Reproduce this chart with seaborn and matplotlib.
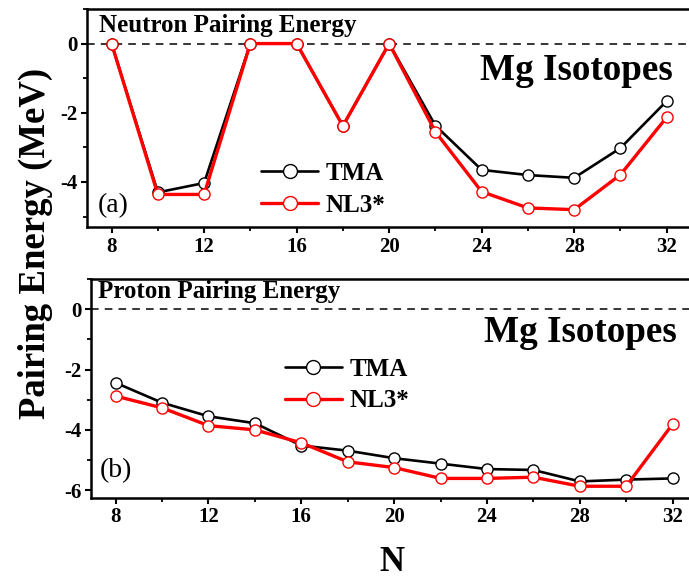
import numpy as np
import pandas as pd
import seaborn as sns
import matplotlib
matplotlib.use("Agg")
import matplotlib.pyplot as plt
from matplotlib.ticker import MultipleLocator
from matplotlib.lines import Line2D

# Neutron number N for the Mg isotope chain
neutron_number = [8, 10, 12, 14, 16, 18, 20, 22, 24, 26, 28, 30, 32]

# Neutron pairing energy (MeV)
neutron_tma = [0.0, -4.30, -4.03, 0.0, 0.0, -2.38, 0.0, -2.37, -3.65, -3.80, -3.88, -3.02, -1.66]
neutron_nl3 = [0.0, -4.36, -4.36, 0.0, 0.0, -2.38, 0.0, -2.55, -4.28, -4.75, -4.80, -3.79, -2.13]

# Proton pairing energy (MeV)
proton_tma = [-2.44, -3.10, -3.55, -3.78, -4.52, -4.69, -4.94, -5.12, -5.30, -5.33, -5.71, -5.65, -5.61]
proton_nl3 = [-2.88, -3.27, -3.86, -4.00, -4.43, -5.06, -5.25, -5.61, -5.61, -5.57, -5.87, -5.87, -3.81]

x_tick_values = [8, 12, 16, 20, 24, 28, 32]
top_y_ticks = [0, -2, -4]
bottom_y_ticks = [0, -2, -4, -6]

series_names = ["TMA", "NL3*"]
series_colors = {"TMA": "black", "NL3*": "red"}
series_widths = {"TMA": 1.9, "NL3*": 2.4}

sns.set_theme(style="ticks")
plt.rcParams["font.family"] = ["Liberation Serif", "DejaVu Serif"]
plt.rcParams["font.weight"] = "bold"
plt.rcParams["axes.unicode_minus"] = False
for key in ["text.color", "axes.labelcolor", "axes.edgecolor",
            "xtick.color", "ytick.color"]:
    plt.rcParams[key] = "black"

fig = plt.figure(figsize=(6.89, 5.79), dpi=100)
ax_top = fig.add_axes([0.1267, 0.608, 0.8745, 0.3765])
ax_bot = fig.add_axes([0.1325, 0.1404, 0.8774, 0.3776])


def long_table(tma, nl3):
    return pd.DataFrame({
        "N": neutron_number * 2,
        "E": tma + nl3,
        "model": ["TMA"] * len(tma) + ["NL3*"] * len(nl3),
    })


def draw_panel(ax, table, title, panel_tag, ylim, yticks, legend_anchor,
               title_pos, iso_pos, tag_pos):
    ax.axhline(0, color="black", lw=1.1, ls=(0, (5, 4)), zorder=1)
    for name in series_names:
        sub = table[table["model"] == name]
        sns.lineplot(data=sub, x="N", y="E", ax=ax, color=series_colors[name],
                     lw=series_widths[name], marker="o", markersize=8,
                     markerfacecolor="white", markeredgecolor=series_colors[name],
                     markeredgewidth=1.0, legend=False, zorder=3)
    ax.set_xlim(6.95, 33.0)
    ax.set_ylim(*ylim)
    ax.set_xticks(x_tick_values, labels=[str(v) for v in x_tick_values],
                  fontweight="bold", fontsize=15, color="black")
    ax.xaxis.set_minor_locator(MultipleLocator(2))
    ax.set_yticks(yticks, labels=[str(v) for v in yticks],
                  fontweight="bold", fontsize=15, color="black")
    ax.yaxis.set_minor_locator(MultipleLocator(1))
    ax.set_xlabel("")
    ax.set_ylabel("")
    ax.tick_params(axis="both", which="major", direction="out", length=4,
                   width=1.5, pad=3, top=False, right=False, color="black")
    ax.tick_params(axis="both", which="minor", direction="out", length=3,
                   width=1.3, top=False, right=False, color="black")
    for side in ["left", "bottom", "top"]:
        ax.spines[side].set_linewidth(1.8)
        ax.spines[side].set_color("black")
        ax.spines[side].set_visible(True)
    ax.spines["right"].set_visible(False)

    ax.text(title_pos[0], title_pos[1], title, transform=ax.transAxes,
            fontsize=18, fontweight="bold", ha="left", va="top", color="black")
    ax.text(iso_pos[0], iso_pos[1], "Mg Isotopes", transform=ax.transAxes,
            fontsize=26.7, fontweight="bold", ha="right", va="baseline",
            color="black")
    ax.text(tag_pos[0], tag_pos[1], panel_tag, transform=ax.transAxes,
            fontsize=20, fontweight="normal", ha="left", va="baseline",
            color="black")

    handles = [
        Line2D([], [], color=series_colors[n], lw=series_widths[n], marker="o",
               markersize=10, markerfacecolor="white",
               markeredgecolor=series_colors[n], markeredgewidth=1.0)
        for n in series_names
    ]
    ax.legend(handles, series_names, loc="center left",
              bbox_to_anchor=legend_anchor, frameon=False, borderpad=0,
              borderaxespad=0, handlelength=2.3, handletextpad=0.3,
              labelspacing=0.35, prop={"size": 18, "weight": "bold"},
              labelcolor="black")


draw_panel(ax_top, long_table(neutron_tma, neutron_nl3),
           "Neutron Pairing Energy", "(a)", (-5.3, 1.0), top_y_ticks,
           (0.288, 0.172), (0.020, 0.978), (0.972, 0.674), (0.018, 0.07))
draw_panel(ax_bot, long_table(proton_tma, proton_nl3),
           "Proton Pairing Energy", "(b)", (-6.25, 1.0), bottom_y_ticks,
           (0.320, 0.515), (0.011, 0.998), (0.968, 0.713), (0.014, 0.096))

fig.text(0.051, 0.58, "Pairing Energy (MeV)", rotation=90, fontsize=26.5,
         fontweight="bold", ha="center", va="center", color="black")
fig.text(0.569, 0.028, "N", fontsize=25, fontweight="bold",
         ha="center", va="center", color="black")

fig.savefig("out.png", dpi=100)
